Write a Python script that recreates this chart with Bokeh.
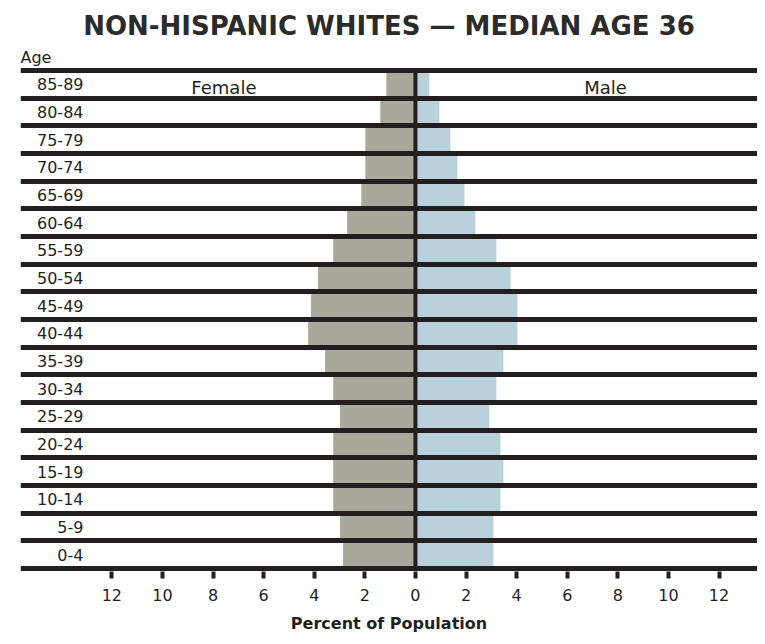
from bokeh.plotting import figure
from bokeh.models import Range1d, Title, FixedTicker
from bokeh.core.properties import value
from bokeh.embed import file_html
from bokeh.resources import INLINE

# ---- data ----
age_groups = ["0-4", "5-9", "10-14", "15-19", "20-24", "25-29", "30-34", "35-39",
              "40-44", "45-49", "50-54", "55-59", "60-64", "65-69", "70-74",
              "75-79", "80-84", "85-89"]
female = [2.86, 2.98, 3.25, 3.25, 3.25, 2.98, 3.25, 3.57, 4.24, 4.13, 3.85, 3.25,
          2.70, 2.14, 1.98, 1.98, 1.39, 1.15]
male = [3.08, 3.08, 3.36, 3.48, 3.36, 2.92, 3.20, 3.48, 4.03, 4.03, 3.76, 3.20,
        2.37, 1.94, 1.66, 1.38, 0.95, 0.55]
tick_values = [-12, -10, -8, -6, -4, -2, 0, 2, 4, 6, 8, 10, 12]
tick_labels = ["12", "10", "8", "6", "4", "2", "0", "2", "4", "6", "8", "10", "12"]
title_text = "NON-HISPANIC WHITES \u2014 MEDIAN AGE 36"
sex_labels = ["Female", "Male"]
sex_label_x = [-7.57, 7.51]

FONT = "DejaVu Sans"
BLACK = "#231f20"
GRAY = "#a8a89b"
BLUE = "#b8d1da"

n = len(age_groups)
y_mid = [i + 0.5 for i in range(n)]

p = figure(width=757, height=636, output_backend="svg", toolbar_location=None,
           x_range=Range1d(-15.61, 13.52), y_range=Range1d(-0.108, 18.108),
           y_axis_location=None, min_border_left=20, min_border_right=0,
           min_border_top=67, min_border_bottom=65)
p.outline_line_color = None
p.xgrid.visible = False
p.ygrid.visible = False
p.background_fill_color = "white"
p.border_fill_color = "white"

# bars
p.hbar(y=y_mid, height=1.0, left=[-v for v in female], right=0,
       fill_color=GRAY, line_color=None)
p.hbar(y=y_mid, height=1.0, left=0, right=male,
       fill_color=BLUE, line_color=None)

# row separators
p.hspan(y=list(range(n + 1)), line_color=BLACK, line_width=5)
# zero line
p.segment(x0=[0], y0=[0], x1=[0], y1=[n], line_color=BLACK, line_width=4)

# row labels
label_x = -13.12
p.text(x=[label_x] * n, y=y_mid, text=age_groups, text_align="right",
       text_baseline="middle", text_font=value(FONT), text_font_size="16px",
       text_color=BLACK)

# Female / Male labels
p.text(x=sex_label_x, y=[n - 0.63] * 2, text=sex_labels, text_align="center",
       text_baseline="middle", text_font=value(FONT), text_font_size="18px",
       text_color=BLACK)

# x axis
ax = p.xaxis[0]
ax.ticker = FixedTicker(ticks=tick_values)
ax.major_label_overrides = {v: l for v, l in zip(tick_values, tick_labels)}
ax.axis_line_color = None
ax.minor_tick_line_color = None
ax.major_tick_in = 0
ax.major_tick_out = 7
ax.major_tick_line_width = 4
ax.major_tick_line_color = BLACK
ax.major_label_text_font = FONT
ax.major_label_text_font_size = "16px"
ax.major_label_text_color = BLACK
ax.major_label_standoff = 10
ax.axis_label = "Percent of Population"
ax.axis_label_text_font = FONT
ax.axis_label_text_font_size = "16px"
ax.axis_label_text_font_style = "bold"
ax.axis_label_text_color = BLACK
ax.axis_label_standoff = 10

# titles
p.add_layout(Title(text="Age", align="left", text_font=FONT, text_font_size="16px",
                   text_font_style="normal", text_color=BLACK, standoff=2), "above")
p.add_layout(Title(text=title_text, align="center", offset=32, text_font=FONT,
                   text_font_size="26px", text_font_style="bold",
                   text_color="#2b2b2b", standoff=7), "above")

open("out.html", "w").write(file_html(p, INLINE))
